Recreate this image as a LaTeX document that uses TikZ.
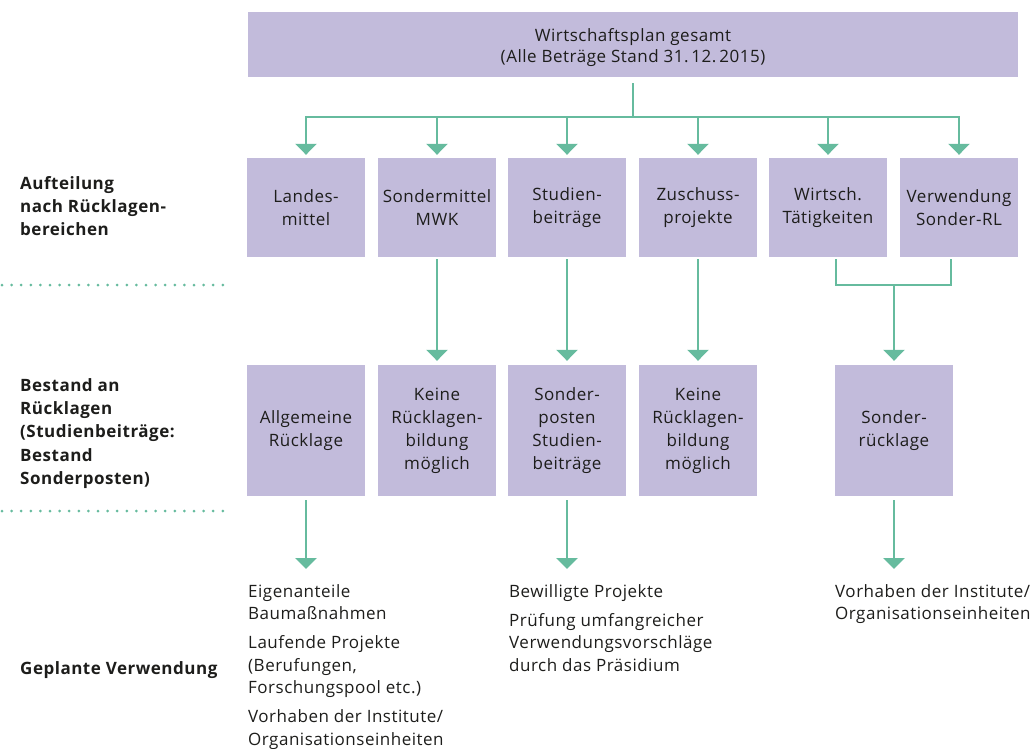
\documentclass[tikz,border=0pt]{standalone}
\usepackage{fontspec}
\setmainfont{Open Sans}[LetterSpace=3]
\usetikzlibrary{arrows.meta}
\definecolor{boxc}{HTML}{C2BBDB}
\definecolor{lineg}{HTML}{66BB9E}
\definecolor{txt}{HTML}{1D1D1B}
\begin{document}
\begin{tikzpicture}[x=1pt,y=-1pt,
  box/.style={fill=boxc, draw=none, minimum width=118pt, inner sep=0pt, align=center,
    font=\fontsize{17}{23}\selectfont, text=txt},
  boxa/.style={box, minimum height=99pt},
  boxb/.style={box, minimum height=131pt},
  conn/.style={draw=lineg, line width=2.8pt},
  arr/.style={conn, -{Triangle[width=21pt,length=11pt]}},
  plain/.style={inner sep=0pt, align=left, anchor=north west, text=txt,
    font=\fontsize{17}{22.5}\selectfont},
  label/.style={plain, font=\bfseries\fontsize{17}{23.3}\selectfont},
  dots/.style={draw=lineg, line width=3pt, line cap=round, dash pattern=on 0pt off 9.6pt}
]
\useasboundingbox (0,0) rectangle (1036,748);

% top box
\node[box, minimum width=770pt, minimum height=65pt, font=\fontsize{17}{21}\selectfont] (top) at (633,44.5)
  {\rule{0pt}{20pt}Wirtschaftsplan gesamt\\(Alle Beträge Stand 31.\,12.\,2015)};

% row 1
\node[boxa] (a1) at (306,207.5) {Landes-\\mittel};
\node[boxa] (a2) at (437,207.5) {Sondermittel\\MWK};
\node[boxa] (a3) at (567,207.5) {Studien-\\beiträge};
\node[boxa] (a4) at (698,207.5) {Zuschuss-\\projekte};
\node[boxa] (a5) at (828,207.5) {Wirtsch.\\Tätigkeiten};
\node[boxa] (a6) at (959,207.5) {Verwendung\\Sonder-RL};

% row 2
\node[boxb] (c1) at (306,430.5) {Allgemeine\\Rücklage};
\node[boxb] (c2) at (437,430.5) {Keine\\Rücklagen-\\bildung\\möglich};
\node[boxb] (c3) at (567,430.5) {Sonder-\\posten\\Studien-\\beiträge};
\node[boxb] (c4) at (698,430.5) {Keine\\Rücklagen-\\bildung\\möglich};
\node[boxb] (c5) at (894,430.5) {Sonder-\\rücklage};

% left labels
\node[label] (l1) at (20,176) {Aufteilung\\nach Rücklagen-\\bereichen};
\node[label] (l2) at (20,378) {Bestand an\\Rücklagen\\(Studienbeiträge:\\Bestand\\Sonderposten)};
\node[label] (l3) at (20,661) {Geplante Verwendung};

% dotted separators
\coordinate (d1a) at (2,285);
\coordinate (d1b) at (232,285);
\coordinate (d2a) at (2,511);
\coordinate (d2b) at (232,511);
\draw[dots] (d1a) -- (d1b);
\draw[dots] (d2a) -- (d2b);

% bottom texts
\node[plain] (t1) at (248,584) {Eigenanteile\\Baumaßnahmen\\[6.5pt]Laufende Projekte\\(Berufungen,\\Forschungspool etc.)\\[6.5pt]Vorhaben der Institute/\\Organisationseinheiten};
\node[plain] (t2) at (509,584) {Bewilligte Projekte\\[6.5pt]Prüfung umfangreicher\\Verwendungsvorschläge\\durch das Präsidium};
\node[plain] (t3) at (835,584) {Vorhaben der Institute/\\Organisationseinheiten};

% connectors top -> row 1
\coordinate (split) at (633,117);
\draw[conn] ([yshift=-6pt]top.south) -- (split);
\foreach \n in {a1,a2,a3,a4,a5,a6}
  \draw[arr] (split) -| ([yshift=3pt]\n.north);

% row 1 -> row 2
\draw[arr] ([yshift=-2pt]a2.south) -- ([yshift=4pt]c2.north);
\draw[arr] ([yshift=-2pt]a3.south) -- ([yshift=4pt]c3.north);
\draw[arr] ([yshift=-2pt]a4.south) -- ([yshift=4pt]c4.north);

% merge
\coordinate (ml) at (836,259);
\coordinate (mr) at (951,259);
\coordinate (m) at (894,285);
\draw[conn] (ml) |- (m) -| (mr);
\draw[arr] (m) -- ([yshift=4pt]c5.north);

% row 2 -> usage
\coordinate (u1) at (306,569);
\coordinate (u3) at (567,569);
\coordinate (u5) at (894,569);
\draw[arr] ([yshift=-4pt]c1.south) -- (u1);
\draw[arr] ([yshift=-4pt]c3.south) -- (u3);
\draw[arr] ([yshift=-4pt]c5.south) -- (u5);
\end{tikzpicture}
\end{document}
